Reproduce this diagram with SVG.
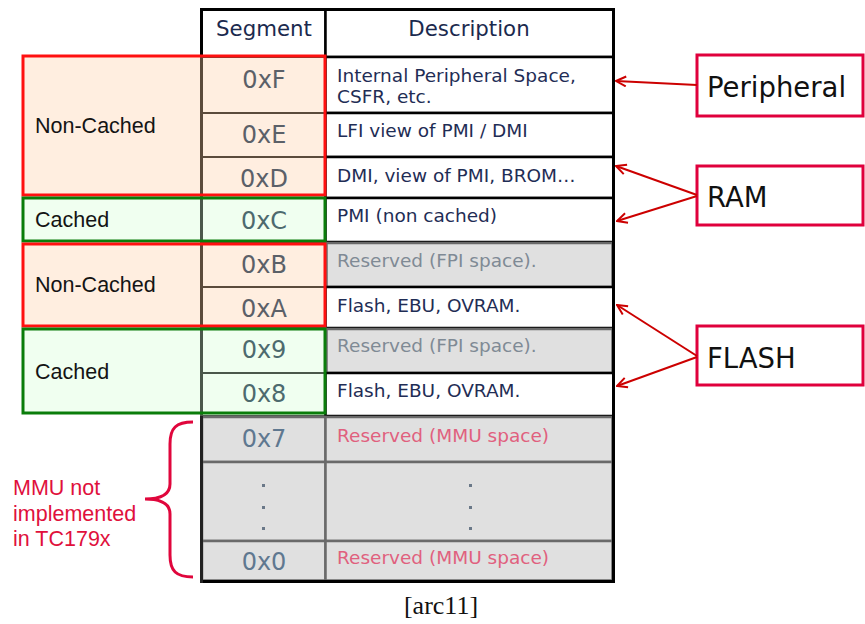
<svg xmlns="http://www.w3.org/2000/svg" width="865" height="624" viewBox="0 0 865 624">
  <style>
    .hdr { font-family: "DejaVu Sans", Verdana, sans-serif; font-size: 21.3px; fill: #1b2a4e; text-anchor: middle; }
    .hex { font-family: "DejaVu Sans", Verdana, sans-serif; font-size: 24px; text-anchor: middle; }
    .hex-p { fill: #5b6068; }
    .hex-g { fill: #4d6a6e; }
    .hex-x { fill: #5f7890; }
    .desc { font-family: "DejaVu Sans", Verdana, sans-serif; font-size: 18.5px; fill: #1f2d55; }
    .desc-r { fill: #7f8a95; }
    .desc-m { fill: #e0607e; }
    .lbl { font-family: "Liberation Sans", Arial, sans-serif; font-size: 21.5px; fill: #141414; }
    .mmu { font-family: "Liberation Sans", Arial, sans-serif; font-size: 21.5px; fill: #e0103c; }
    .tag { font-family: "DejaVu Sans", Verdana, sans-serif; font-size: 27.5px; fill: #111111; }
    .tagbox { fill: #ffffff; stroke: #e0003c; stroke-width: 3; }
    .peach { fill: #ffeee0; }
    .mint { fill: #f0fff0; }
    .segp { fill: #ffeee0; stroke: #5b4b3c; stroke-width: 2; }
    .segg { fill: #f0fff0; stroke: #4b584b; stroke-width: 2; }
    .grey { fill: #e0e0e0; stroke: #6a6a6a; stroke-width: 2.5; }
    .white { fill: #ffffff; stroke: #000000; stroke-width: 2.5; }
    .redbox { fill: none; stroke: #ff1010; stroke-width: 3; }
    .grnbox { fill: none; stroke: #0a7d0a; stroke-width: 3; }
    .arrow { stroke: #cc0000; stroke-width: 2; fill: none; marker-end: url(#head); }
    .dot { fill: #6a7888; }
  </style>
  <defs>
    <marker id="head" viewBox="0 0 12 12" refX="11" refY="6" markerWidth="12" markerHeight="12" markerUnits="userSpaceOnUse" orient="auto">
      <path d="M1,1 L11,6 L1,11" fill="none" stroke="#cc0000" stroke-width="2"/>
    </marker>
  </defs>

  <rect width="865" height="624" fill="#ffffff"/>

  <!-- left-hand cache regions (fills) -->
  <rect class="peach" x="23" y="56" width="302" height="139"/>
  <rect class="mint" x="23" y="198" width="302" height="43"/>
  <rect class="peach" x="23" y="244" width="302" height="82"/>
  <rect class="mint" x="23" y="329" width="302" height="84"/>

  <!-- memory map table -->
  <g id="table">
    <rect x="201.5" y="9.5" width="412" height="572" fill="#ffffff" stroke="#000000" stroke-width="3"/>
    <!-- header -->
    <rect class="white" x="201.5" y="9.5" width="124" height="47.5"/>
    <rect class="white" x="325.5" y="9.5" width="288" height="47.5"/>
    <text class="hdr" x="264" y="36">Segment</text>
    <text class="hdr" x="469" y="36">Description</text>
  </g>

  <g id="seg-F">
    <rect class="segp" x="201.5" y="57" width="124" height="56"/>
    <rect class="white" x="325.5" y="57" width="288" height="56"/>
    <text class="hex hex-p" x="264" y="88">0xF</text>
    <text class="desc" x="337" y="82">Internal Peripheral Space,</text>
    <text class="desc" x="337" y="103">CSFR, etc.</text>
  </g>
  <g id="seg-E">
    <rect class="segp" x="201.5" y="113" width="124" height="44"/>
    <rect class="white" x="325.5" y="113" width="288" height="44"/>
    <text class="hex hex-p" x="264" y="143">0xE</text>
    <text class="desc" x="337" y="137">LFI view of PMI / DMI</text>
  </g>
  <g id="seg-D">
    <rect class="segp" x="201.5" y="157" width="124" height="41"/>
    <rect class="white" x="325.5" y="157" width="288" height="41"/>
    <text class="hex hex-p" x="264" y="187">0xD</text>
    <text class="desc" x="337" y="182">DMI, view of PMI, BROM…</text>
  </g>
  <g id="seg-C">
    <rect class="segg" x="201.5" y="198" width="124" height="44"/>
    <rect class="white" x="325.5" y="198" width="288" height="44"/>
    <text class="hex hex-g" x="264" y="229">0xC</text>
    <text class="desc" x="337" y="222">PMI (non cached)</text>
  </g>
  <g id="seg-B">
    <rect class="segp" x="201.5" y="242" width="124" height="45"/>
    <rect class="grey" x="326.5" y="243" width="286" height="44"/>
    <text class="hex hex-p" x="264" y="273">0xB</text>
    <text class="desc desc-r" x="337" y="267">Reserved (FPI space).</text>
  </g>
  <g id="seg-A">
    <rect class="segp" x="201.5" y="287" width="124" height="41"/>
    <rect class="white" x="325.5" y="287" width="288" height="41"/>
    <text class="hex hex-p" x="264" y="317">0xA</text>
    <text class="desc" x="337" y="312">Flash, EBU, OVRAM.</text>
  </g>
  <g id="seg-9">
    <rect class="segg" x="201.5" y="328" width="124" height="45"/>
    <rect class="grey" x="326.5" y="329" width="286" height="44"/>
    <text class="hex hex-g" x="264" y="358">0x9</text>
    <text class="desc desc-r" x="337" y="352">Reserved (FPI space).</text>
  </g>
  <g id="seg-8">
    <rect class="segg" x="201.5" y="373" width="124" height="43"/>
    <rect class="white" x="325.5" y="373" width="288" height="43"/>
    <text class="hex hex-g" x="264" y="402">0x8</text>
    <text class="desc" x="337" y="397">Flash, EBU, OVRAM.</text>
  </g>
  <g id="seg-7">
    <rect class="grey" x="202" y="417" width="123.5" height="45"/>
    <rect class="grey" x="325.5" y="417" width="287" height="45"/>
    <text class="hex hex-x" x="264" y="447">0x7</text>
    <text class="desc desc-m" x="337" y="442">Reserved (MMU space)</text>
  </g>
  <g id="seg-gap">
    <rect class="grey" x="202" y="462" width="123.5" height="79"/>
    <rect class="grey" x="325.5" y="462" width="287" height="79"/>
    <rect class="dot" x="262" y="484" width="3" height="3"/>
    <rect class="dot" x="262" y="506" width="3" height="3"/>
    <rect class="dot" x="262" y="527" width="3" height="3"/>
    <rect class="dot" x="469" y="484" width="3" height="3"/>
    <rect class="dot" x="469" y="506" width="3" height="3"/>
    <rect class="dot" x="469" y="527" width="3" height="3"/>
  </g>
  <g id="seg-0">
    <rect class="grey" x="202" y="541" width="123.5" height="39.5"/>
    <rect class="grey" x="325.5" y="541" width="287" height="39.5"/>
    <text class="hex hex-x" x="264" y="570">0x0</text>
    <text class="desc desc-m" x="337" y="564">Reserved (MMU space)</text>
  </g>

  <!-- outer frame edges drawn over the cells -->
  <g id="frame">
    <line x1="613.5" y1="8" x2="613.5" y2="583" stroke="#000000" stroke-width="3"/>
    <line x1="200" y1="9.5" x2="615" y2="9.5" stroke="#000000" stroke-width="3"/>
    <line x1="200" y1="581.5" x2="615" y2="581.5" stroke="#000000" stroke-width="3"/>
    <line x1="201.5" y1="8" x2="201.5" y2="57" stroke="#000000" stroke-width="3"/>
    <line x1="201.5" y1="57" x2="201.5" y2="198" stroke="#5b4b3c" stroke-width="3"/>
    <line x1="201.5" y1="198" x2="201.5" y2="242" stroke="#4b584b" stroke-width="3"/>
    <line x1="201.5" y1="242" x2="201.5" y2="328" stroke="#5b4b3c" stroke-width="3"/>
    <line x1="201.5" y1="328" x2="201.5" y2="416" stroke="#4b584b" stroke-width="3"/>
    <line x1="201.5" y1="416" x2="201.5" y2="583" stroke="#222222" stroke-width="3"/>
  </g>

  <!-- cache region outlines and labels -->
  <g id="noncached-high">
    <rect class="redbox" x="23" y="56" width="302" height="139"/>
    <text class="lbl" x="35" y="133">Non-Cached</text>
  </g>
  <g id="cached-high">
    <rect class="grnbox" x="23" y="198" width="302" height="43"/>
    <text class="lbl" x="35" y="227">Cached</text>
  </g>
  <g id="noncached-low">
    <rect class="redbox" x="23" y="244" width="302" height="82"/>
    <text class="lbl" x="35" y="292">Non-Cached</text>
  </g>
  <g id="cached-low">
    <rect class="grnbox" x="23" y="329" width="302" height="84"/>
    <text class="lbl" x="35" y="379">Cached</text>
  </g>

  <!-- MMU note with brace -->
  <g id="mmu-note">
    <path d="M193,422 C176,422 170,428 170,444 L170,484 C170,494 162,499 145,499 C162,499 170,504 170,514 L170,555 C170,571 176,577 193,577" fill="none" stroke="#e0063c" stroke-width="3"/>
    <text class="mmu" x="13" y="495">MMU not</text>
    <text class="mmu" x="13" y="521">implemented</text>
    <text class="mmu" x="13" y="546">in TC179x</text>
  </g>

  <!-- memory type tags -->
  <g id="tag-peripheral">
    <rect class="tagbox" x="697" y="55" width="166" height="61"/>
    <text class="tag" x="707" y="97">Peripheral</text>
  </g>
  <g id="tag-ram">
    <rect class="tagbox" x="697" y="166" width="166" height="59"/>
    <text class="tag" x="707" y="207">RAM</text>
  </g>
  <g id="tag-flash">
    <rect class="tagbox" x="697" y="326" width="166" height="59"/>
    <text class="tag" x="707" y="368">FLASH</text>
  </g>

  <g id="connectors">
    <line class="arrow" x1="697" y1="85" x2="616" y2="81"/>
    <line class="arrow" x1="697" y1="195" x2="616" y2="166"/>
    <line class="arrow" x1="697" y1="196" x2="617" y2="221"/>
    <line class="arrow" x1="697" y1="356" x2="617" y2="305"/>
    <line class="arrow" x1="697" y1="357" x2="617" y2="386"/>
  </g>

  <text x="441" y="614" font-family="'Liberation Serif', 'Times New Roman', serif" font-size="26" fill="#111111" text-anchor="middle">[arc11]</text>
</svg>
